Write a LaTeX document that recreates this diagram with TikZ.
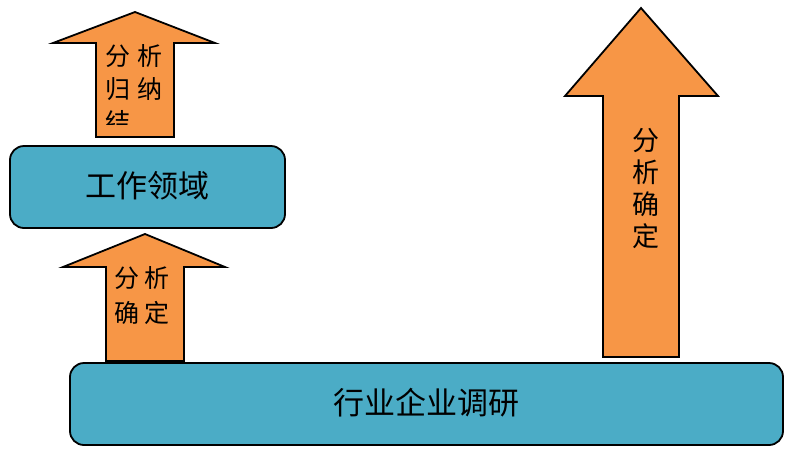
\documentclass[tikz,border=0pt]{standalone}
\usepackage{fontspec}
\setmainfont{Noto Sans CJK SC}
\definecolor{arroworange}{HTML}{F79646}
\definecolor{boxblue}{HTML}{4BACC6}
\tikzset{
	upshape/.style={draw=black, line width=1.8pt, fill=arroworange, line join=miter},
	fieldbox/.style={draw=black, line width=1.8pt, fill=boxblue, rounded corners=14pt, font=\fontsize{31}{36}\selectfont, inner sep=0pt},
	arrowtext/.style={font=\fontsize{25}{33}\selectfont, inner sep=0pt},
}
\begin{document}
\begin{tikzpicture}[x=1pt,y=-1pt]
		\useasboundingbox (0,0) rectangle (795,448);
		\node[fieldbox, minimum width=713pt, minimum height=82pt] (survey) at (426.5,404) {\raisebox{5pt}{行业企业调研}};
		\node[fieldbox, minimum width=275pt, minimum height=82pt] (field) at (147.5,187) {\raisebox{5pt}{工作领域}};
		% left lower arrow
		\draw[upshape] (106,361) -- (106,267) -- (63,267) -- (145,234) -- (225,267) -- (184,267) -- (184,361) -- cycle;
		\node[arrowtext, align=center, font=\fontsize{25}{35}\selectfont] (fix) at (142,296) {分\hspace{5pt}析\\确\hspace{5pt}定};
		% left upper arrow
		\draw[upshape] (96,137) -- (96,43) -- (53,43) -- (135,12) -- (215,43) -- (174,43) -- (174,137) -- cycle;
		\begin{scope}
			\clip (97,44) rectangle (173,124);
			\node[arrowtext, align=left, anchor=north west] (sumup) at (105,44) {分\hspace{7pt}析\\归\hspace{7pt}纳\\结};
		\end{scope}
		% right arrow
		\draw[upshape] (603,357) -- (603,96) -- (565,96) -- (641,8) -- (718,96) -- (679,96) -- (679,357) -- cycle;
		\node[arrowtext, align=center, font=\fontsize{27}{32}\selectfont] (fixall) at (646,189) {分\\析\\确\\定};
	\end{tikzpicture}
\end{document}
